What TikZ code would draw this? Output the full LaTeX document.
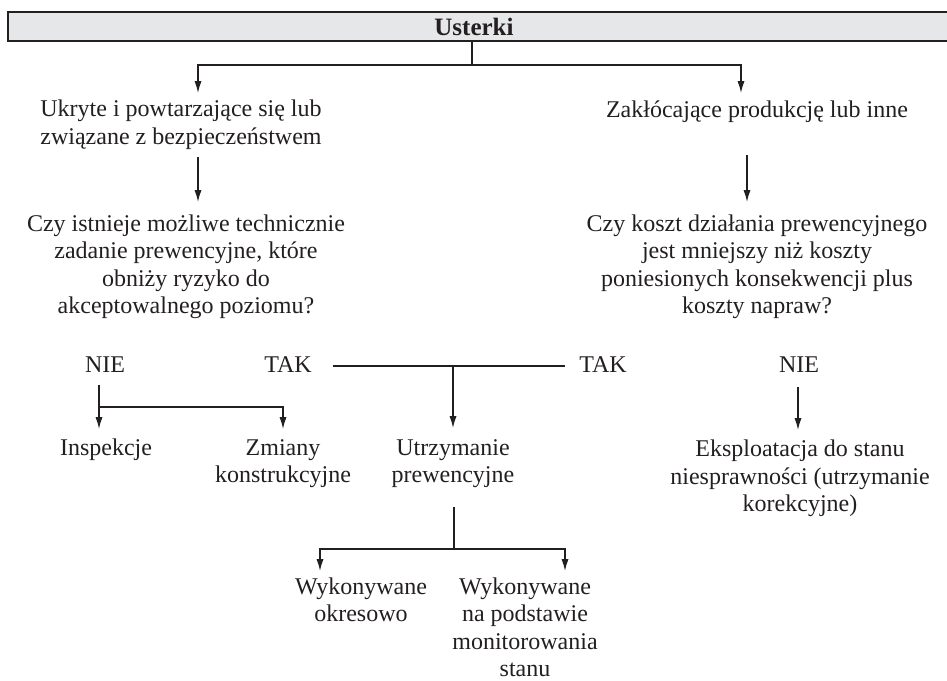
\documentclass[tikz,border=0pt]{standalone}
\usepackage{fontspec}
\setmainfont{Liberation Serif}
\usetikzlibrary{arrows.meta}
\definecolor{ink}{HTML}{231F20}
\definecolor{hdrgray}{HTML}{E6E7E8}
\begin{document}
\begin{tikzpicture}[x=0.5pt,y=-0.5pt,
  lbl/.style={align=center, font=\fontsize{12}{13.75}\selectfont, text=ink, inner sep=0pt},
  hdrtext/.style={font=\bfseries\fontsize{12.5}{14}\selectfont, text=ink, inner sep=0pt},
  link/.style={draw=ink, line width=0.7pt},
  arr/.style={link, -{Latex[length=6pt,width=3.6pt]}},
  hdrbar/.style={fill=hdrgray, draw=ink, line width=0.7pt},
]
\useasboundingbox (0,0) rectangle (947,680);

% header bar
\path[hdrbar] (8,12) rectangle (960,41);
\node[hdrtext] (hdr) at (474,26.5) {Usterki};

% text blocks
\node[lbl] (ukryte) at (181,124.5) {Ukryte i powtarzające się lub\\związane z bezpieczeństwem};
\node[lbl] (zaklo) at (757,112) {Zakłócające produkcję lub inne};
\node[lbl] (czyist) at (186,267) {Czy istnieje możliwe technicznie\\zadanie prewencyjne, które\\obniży ryzyko do\\akceptowalnego poziomu?};
\node[lbl] (czykoszt) at (757,267) {Czy koszt działania prewencyjnego\\jest mniejszy niż koszty\\poniesionych konsekwencji plus\\koszty napraw?};
\node[lbl] (nieL) at (105,365) {NIE};
\node[lbl] (takL) at (288,365) {TAK};
\node[lbl] (takR) at (603,365) {TAK};
\node[lbl] (nieR) at (799,365) {NIE};
\node[lbl] (insp) at (106,450) {Inspekcje};
\node[lbl] (zmiany) at (283,463.5) {Zmiany\\konstrukcyjne};
\node[lbl] (utrz) at (453,463.5) {Utrzymanie\\prewencyjne};
\node[lbl] (eksp) at (800,478.5) {Eksploatacja do stanu\\niesprawności (utrzymanie\\korekcyjne)};
\node[lbl, anchor=north] (okres) at (361,577) {Wykonywane\\okresowo};
\node[lbl, anchor=north] (monit) at (525,577) {Wykonywane\\na podstawie\\monitorowania\\stanu};

% junctions and arrow ends
\coordinate (hdrB) at (472,41);
\coordinate (jTop) at (472,65);
\coordinate (tUk) at (198,93);
\coordinate (tZa) at (741,93);
\coordinate (sL) at (198,157);
\coordinate (tL) at (198,202);
\coordinate (sR) at (747,155);
\coordinate (tR) at (747,202);
\coordinate (takA) at (333,366);
\coordinate (takB) at (565,366);
\coordinate (jTak) at (453,366);
\coordinate (tUtrz) at (453,428);
\coordinate (sNieL) at (99,385);
\coordinate (jNieL) at (99,407);
\coordinate (tInsp) at (99,429);
\coordinate (tZm) at (283,429);
\coordinate (sNieR) at (798,387);
\coordinate (tEksp) at (798,430);
\coordinate (sUtrz) at (454,507);
\coordinate (jUtrz) at (454,549);
\coordinate (tOkr) at (320,571);
\coordinate (tMon) at (565,571);

% connectors
\draw[link] (hdrB) -- (jTop);
\draw[arr] (jTop) -| (tUk);
\draw[arr] (jTop) -| (tZa);
\draw[arr] (sL) -- (tL);
\draw[arr] (sR) -- (tR);
\draw[link] (takA) -- (takB);
\draw[arr] (jTak) -- (tUtrz);
\draw[arr] (sNieL) -- (tInsp);
\draw[arr] (jNieL) -| (tZm);
\draw[arr] (sNieR) -- (tEksp);
\draw[link] (sUtrz) -- (jUtrz);
\draw[arr] (jUtrz) -| (tOkr);
\draw[arr] (jUtrz) -| (tMon);
\end{tikzpicture}
\end{document}
